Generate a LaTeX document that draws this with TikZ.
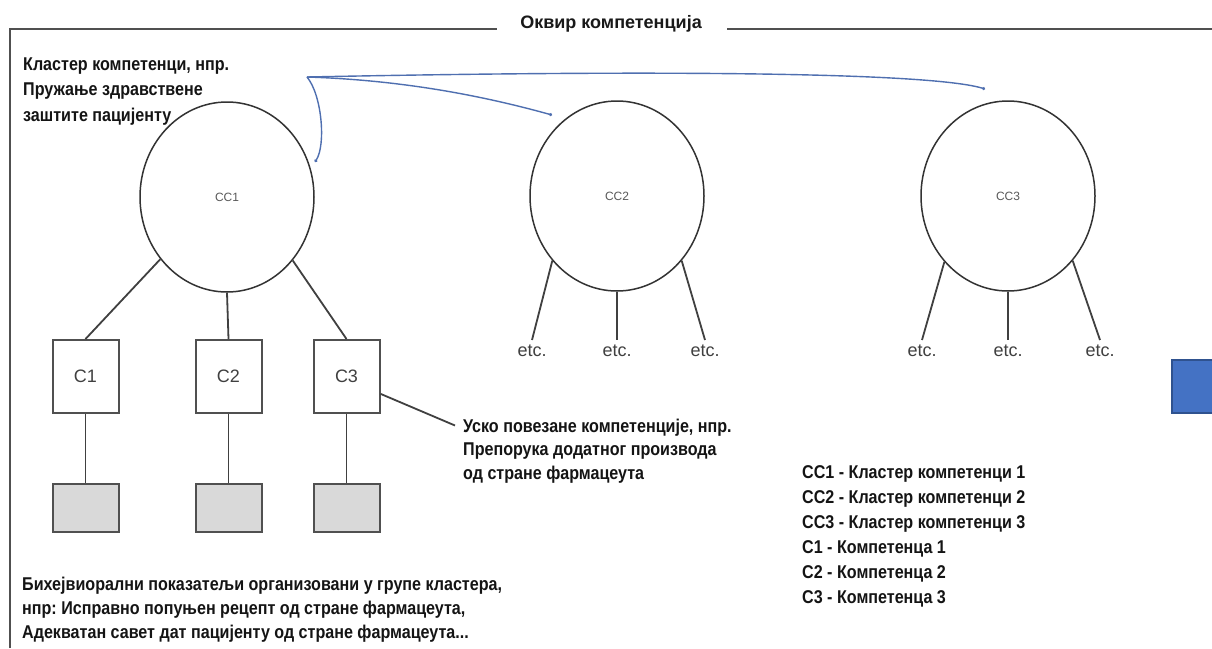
\documentclass[tikz,border=0pt]{standalone}
\usepackage{fontspec}
\setmainfont{Liberation Sans}
\newfontfamily\cond[FakeStretch=0.87]{Liberation Sans}
\usetikzlibrary{shapes.geometric,calc,arrows.meta}
\frenchspacing
\definecolor{inkblue}{HTML}{4F6FB0}
\definecolor{boxblue}{HTML}{4472C4}
\definecolor{boxblueedge}{HTML}{2F528F}
\definecolor{framegray}{HTML}{505050}
\definecolor{greyfill}{HTML}{D9D9D9}
\tikzset{
  frameline/.style={draw=framegray, line width=2.2pt},
  cluster/.style={ellipse, draw=black!80, line width=1.5pt, minimum width=174pt, minimum height=190pt, inner sep=0pt, font=\fontsize{12}{14}\selectfont, text=black!65},
  compbox/.style={rectangle, draw=framegray, line width=2pt, minimum width=66pt, minimum height=73pt, inner sep=0pt, font=\fontsize{18}{20}\selectfont, text=black!75},
  indbox/.style={rectangle, draw=framegray, fill=greyfill, line width=2pt, minimum width=66pt, minimum height=48pt, inner sep=0pt},
  link/.style={draw=black!75, line width=1.8pt},
  etcnode/.style={font=\fontsize{18}{20}\selectfont, text=black!75, inner xsep=0pt, inner ysep=5pt, anchor=north},
  bluecurve/.style={draw=inkblue, line width=1.4pt, -{Circle[length=3pt]}},
  txt/.style={font=\cond\bfseries\fontsize{18.5}{24}\selectfont, text=black!92, align=left, inner sep=0pt, anchor=north west},
}
\begin{document}
\begin{tikzpicture}[x=1pt,y=-1pt]
\useasboundingbox (0,0) rectangle (1212,648);
\fill[white] (0,0) rectangle (1212,648);

% title and frame
\node[font=\bfseries\fontsize{18}{20}\selectfont, text=black!90, anchor=base, inner sep=0pt] (title) at (611,28) {Оквир компетенција};
\draw[frameline] (10,648) -- (10,29) -- (497,29);
\draw[frameline] (727,29) -- (1212,29);

% clusters
\node[cluster] (cc1) at (227,197) {CC1};
\node[cluster] (cc2) at (617,196) {CC2};
\node[cluster] (cc3) at (1008,196) {CC3};

% competences
\node[compbox] (c1) at (85.5,376.5) {C1};
\node[compbox] (c2) at (228.5,376.5) {C2};
\node[compbox] (c3) at (346.5,376.5) {C3};
\node[indbox] (g1) at (85.5,508) {};
\node[indbox] (g2) at (228.5,508) {};
\node[indbox] (g3) at (346.5,508) {};

\draw[link] (cc1.223) -- (c1.north);
\draw[link] (cc1.south) -- (c2.north);
\draw[link] (cc1.-44) -- (c3.north);
\draw[link] (c1.south) -- (g1.north);
\draw[link] (c2.south) -- (g2.north);
\draw[link] (c3.south) -- (g3.north);

% etc.
\node[etcnode] (e21) at (532,340) {etc.};
\node[etcnode] (e22) at (617,340) {etc.};
\node[etcnode] (e23) at (705,340) {etc.};
\node[etcnode] (e31) at (922,340) {etc.};
\node[etcnode] (e32) at (1008,340) {etc.};
\node[etcnode] (e33) at (1100,340) {etc.};
\draw[link] (cc2.225) -- (e21.north);
\draw[link] (cc2.south) -- (e22.north);
\draw[link] (cc2.-45) -- (e23.north);
\draw[link] (cc3.226) -- (e31.north);
\draw[link] (cc3.south) -- (e32.north);
\draw[link] (cc3.-45) -- (e33.north);

% texts
\node[txt, font=\cond\bfseries\fontsize{18.5}{25.5}\selectfont] (cctext) at (23,57.5) {Кластер компетенци, нпр.\\Пружање здравствене\\заштите пацијенту};
\node[txt, font=\cond\bfseries\fontsize{18.5}{23.7}\selectfont] (ann) at (463,418.5) {Уско повезане компетенције, нпр.\\Препорука додатног производа\\од стране фармацеута};
\node[txt] (beh) at (22,576.5) {Бихејвиорални показатељи организовани у групе кластера,\\нпр: Исправно попуњен рецепт од стране фармацеута,\\Адекватан савет дат пацијенту од стране фармацеута...};
\node[txt, font=\cond\bfseries\fontsize{18.5}{25}\selectfont] (legend) at (802,465) {CC1 - Кластер компетенци 1\\CC2 - Кластер компетенци 2\\CC3 - Кластер компетенци 3\\C1 - Компетенца 1\\C2 - Компетенца 2\\C3 - Компетенца 3};

\draw[link] (c3.-27) -- ($(ann.north west)+(-8,7)$);

% blue pointer curves
\coordinate (bp) at (307,77);
\coordinate (p1) at (315,162);
\coordinate (p2) at (552,115);
\coordinate (p3) at (985,89);
\draw[bluecurve] (bp) .. controls (322,95) and (326,145) .. (p1);
\draw[bluecurve] (bp) .. controls (400,80) and (480,95) .. (p2);
\draw[bluecurve] (bp) .. controls (650,70) and (930,72) .. (p3);

% blue square at the right edge
\fill[boxblue] (1172,360) rectangle (1212,413);
\draw[boxblueedge, line width=1.5pt] (1212,360) -- (1172,360) -- (1172,413) -- (1212,413);
\end{tikzpicture}
\end{document}
